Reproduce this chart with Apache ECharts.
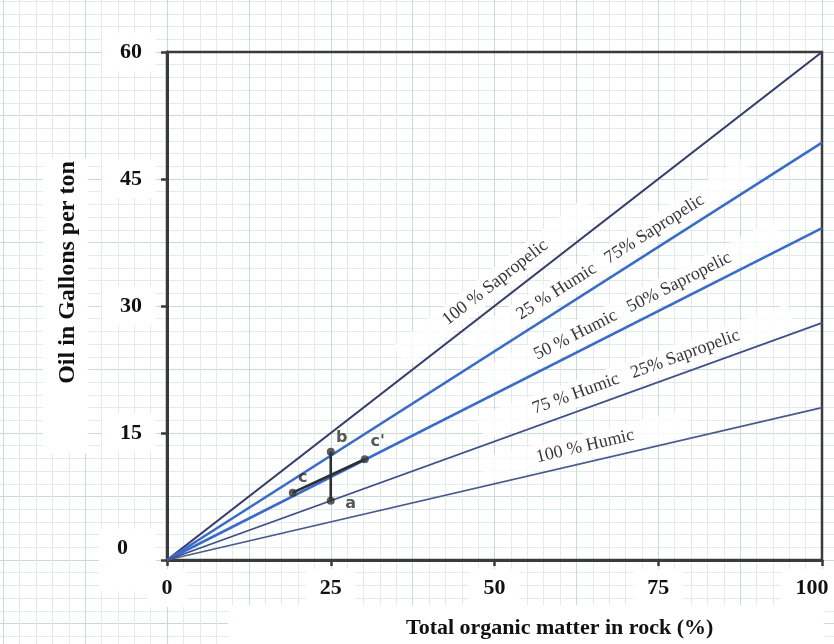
<!DOCTYPE html>
<html>
<head>
<meta charset="utf-8">
<script src="https://cdn.jsdelivr.net/npm/echarts@6/dist/echarts.min.js"></script>
<style>
  html, body { margin: 0; padding: 0; background: #ffffff; }
  #chart { width: 834px; height: 644px; }
</style>
</head>
<body>
<div id="chart"></div>
<script>
// Oil yield (gallons per ton) against total organic matter for kerogen mixes
const xTicks = [0, 25, 50, 75, 100];
const yTicks = [0, 15, 30, 45, 60];
const mixNames = [
  '100 % Sapropelic',
  '25 % Humic   75% Sapropelic',
  '50 % Humic   50% Sapropelic',
  '75 % Humic   25% Sapropelic',
  '100 % Humic'
];
const organicPct = [0, 100];
const yield100Sap = [0, 60];
const yield75Sap = [0, 49.3];
const yield50Sap = [0, 39.2];
const yield25Sap = [0, 28];
const yield0Sap = [0, 18];
// worked example: a-b at 25 % organic matter, c-c' along a mix line
const pointNames = ['a', 'b', 'c', "c'"];
const pointX = [25, 25, 19.2, 30.2];
const pointY = [7.0, 12.8, 7.95, 11.9];

const mixYields = [yield100Sap, yield75Sap, yield50Sap, yield25Sap, yield0Sap];

// plot box in pixels
const plotLeft = 167, plotTop = 52, plotW = 655, plotH = 508;
const xMin = xTicks[0], xMax = xTicks[xTicks.length - 1];
const yMin = yTicks[0], yMax = yTicks[yTicks.length - 1];
const pxPerX = plotW / (xMax - xMin), pxPerY = plotH / (yMax - yMin);

const serif = "'Liberation Serif', 'Times New Roman', serif";
const lineStyles = [
  { color: '#393c6a', width: 2.2 },
  { color: '#3a6cc7', width: 2.6 },
  { color: '#3a6cc7', width: 2.6 },
  { color: '#3f4f88', width: 1.8 },
  { color: '#4a5a8c', width: 1.6 }
];
// where each mix name sits along its line, and how far above it
const labelLayout = [
  { at: 51.8, gap: 18 },
  { at: 69.1, gap: 17 },
  { at: 72.2, gap: 16 },
  { at: 72.5, gap: 17 },
  { at: 64.4, gap: 16 }
];

const mixSeries = mixYields.map((ys, i) => ({
  name: mixNames[i],
  type: 'line',
  xAxisIndex: 0, yAxisIndex: 0,
  data: organicPct.map((x, k) => [x, ys[k]]),
  symbol: 'none',
  silent: true,
  lineStyle: lineStyles[i],
  z: 3
}));

const mixLabelData = mixYields.map((ys, i) => {
  const slope = (ys[1] - ys[0]) / (organicPct[1] - organicPct[0]);
  const at = labelLayout[i].at;
  const angle = Math.atan2(slope * pxPerY, pxPerX) * 180 / Math.PI;
  return {
    value: [at, ys[0] + slope * (at - organicPct[0])],
    name: mixNames[i],
    label: {
      rotate: angle,
      offset: [0, -labelLayout[i].gap]
    }
  };
});

const labelSeries = {
  type: 'scatter',
  xAxisIndex: 0, yAxisIndex: 0,
  data: mixLabelData,
  symbolSize: 1,
  itemStyle: { color: 'rgba(0,0,0,0)' },
  silent: true,
  z: 5,
  label: {
    show: true,
    position: 'inside',
    formatter: p => p.name,
    fontFamily: serif,
    fontSize: 18,
    color: '#000000',
    backgroundColor: '#ffffff',
    padding: [4, 56, 4, 56]
  }
};

const exampleLine = (idx) => ({
  type: 'line',
  xAxisIndex: 0, yAxisIndex: 0,
  data: idx.map(k => [pointX[k], pointY[k]]),
  symbol: 'none',
  silent: true,
  lineStyle: { color: '#2e2e2e', width: 2.6 },
  z: 6
});

const pointOffsets = [[20, 3], [11, -14], [10, -15], [13, -17]];
const pointSeries = {
  type: 'scatter',
  xAxisIndex: 0, yAxisIndex: 0,
  data: pointNames.map((n, k) => ({
    value: [pointX[k], pointY[k]],
    name: n,
    label: { offset: pointOffsets[k] }
  })),
  symbol: 'circle',
  symbolSize: 8,
  itemStyle: { color: '#353535' },
  silent: true,
  z: 7,
  label: {
    show: true,
    position: 'inside',
    formatter: p => p.name,
    fontFamily: "'DejaVu Sans', sans-serif",
    fontWeight: 'bold',
    fontSize: 16,
    color: '#2e2e2e'
  }
};

// graph-paper background spanning the whole page
const paperMinorX = 2.5, paperMinorY = 1.5;
const paperXMin = -27.5, paperXMax = 102.5;
const paperYMin = -10.5, paperYMax = 67.5;
const paperMinor = '#e2ebe9', paperMajor = '#c6dcd6';

const option = {
  animation: false,
  backgroundColor: '#ffffff',
  title: {
    text: 'Total organic matter in rock (%)',
    left: 228,
    top: 605,
    padding: [10, 111, 6, 178],
    backgroundColor: '#ffffff',
    textStyle: {
      fontFamily: serif,
      fontWeight: 'bold',
      fontSize: 22,
      lineHeight: 26,
      color: '#111111'
    }
  },
  grid: [
    {
      left: plotLeft, top: plotTop, width: plotW, height: plotH,
      containLabel: false, outerBoundsMode: 'none',
      show: true, borderColor: '#3a3a3a', borderWidth: 2.5,
      backgroundColor: 'transparent', z: 2
    },
    {
      left: plotLeft - (0 - paperXMin) * pxPerX,
      top: plotTop - (paperYMax - yMax) * pxPerY,
      width: (paperXMax - paperXMin) * pxPerX,
      height: (paperYMax - paperYMin) * pxPerY,
      containLabel: false, outerBoundsMode: 'none',
      show: false, z: 0
    }
  ],
  xAxis: [
    {
      type: 'value', gridIndex: 0,
      min: xMin, max: xMax, interval: 25,
      axisLine: { show: true, lineStyle: { color: '#3a3a3a', width: 3 } },
      axisTick: { show: true, length: 6, lineStyle: { color: '#3a3a3a', width: 2.5 } },
      splitLine: { show: false },
      axisLabel: {
        margin: 9,
        fontFamily: serif, fontWeight: 'bold', fontSize: 22, color: '#111111',
        backgroundColor: '#ffffff', padding: [8, 14, 8, 14],
        formatter: v => (v === xMax ? '{e|' + v + '}' : String(v)),
        rich: {
          e: { fontFamily: serif, fontWeight: 'bold', fontSize: 22, color: '#111111', padding: [0, 20, 0, 0] }
        }
      },
      z: 3
    },
    {
      type: 'value', gridIndex: 1,
      min: paperXMin, max: paperXMax, interval: paperMinorX,
      axisLine: { show: false }, axisTick: { show: false }, axisLabel: { show: false },
      splitLine: {
        show: true,
        lineStyle: { color: [paperMinor, paperMajor, paperMinor, paperMinor, paperMinor], width: 1 }
      },
      z: 0
    }
  ],
  yAxis: [
    {
      type: 'value', gridIndex: 0,
      min: yMin, max: yMax, interval: 15,
      name: 'Oil in Gallons per ton',
      nameLocation: 'middle',
      nameRotate: 90,
      nameGap: 75,
      nameTextStyle: {
        fontFamily: serif, fontWeight: 'bold', fontSize: 24, lineHeight: 28,
        color: '#111111', backgroundColor: '#ffffff',
        padding: [11, 3, 6, 70]
      },
      axisLine: { show: true, lineStyle: { color: '#3a3a3a', width: 3 } },
      axisTick: { show: true, length: 6, lineStyle: { color: '#3a3a3a', width: 2.5 } },
      splitLine: { show: false },
      axisLabel: {
        margin: 11,
        fontFamily: serif, fontWeight: 'bold', fontSize: 22, color: '#111111',
        backgroundColor: '#ffffff', padding: [8, 14, 8, 18],
        formatter: v => (v === yMin ? '{z|' + v + '}' : String(v)),
        rich: {
          z: { fontFamily: serif, fontWeight: 'bold', fontSize: 22, color: '#111111', padding: [0, 14, 24, 0] }
        }
      },
      z: 3
    },
    {
      type: 'value', gridIndex: 1,
      min: paperYMin, max: paperYMax, interval: paperMinorY,
      axisLine: { show: false }, axisTick: { show: false }, axisLabel: { show: false },
      splitLine: {
        show: true,
        lineStyle: { color: [paperMinor, paperMinor, paperMajor, paperMinor, paperMinor], width: 1 }
      },
      z: 0
    }
  ],
  series: [
    ...mixSeries,
    exampleLine([0, 1]),
    exampleLine([2, 3]),
    pointSeries,
    labelSeries
  ]
};

const chart = echarts.init(document.getElementById('chart'), null, { renderer: 'canvas' });
chart.setOption(option);
</script>
</body>
</html>
